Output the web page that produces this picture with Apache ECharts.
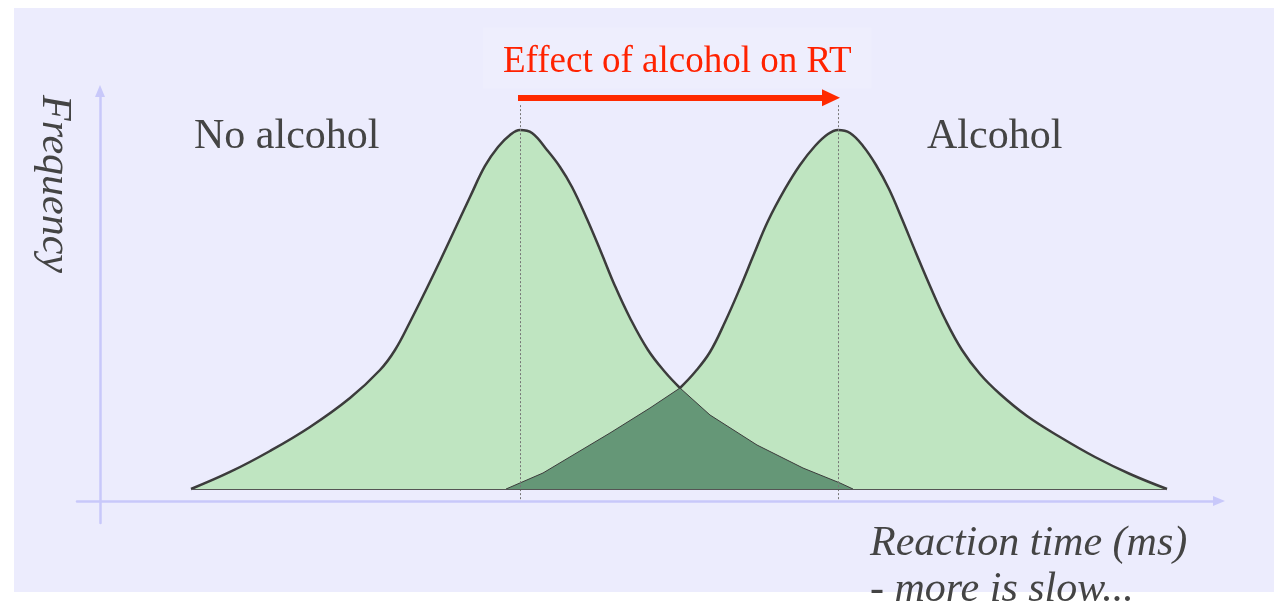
<!DOCTYPE html>
<html>
<head>
<meta charset="utf-8">
<title>Effect of alcohol on RT</title>
<script src="https://cdn.jsdelivr.net/npm/echarts@6/dist/echarts.min.js"></script>
<style>
  html, body { margin: 0; padding: 0; background: #fff; }
  #chart { width: 1274px; height: 611px; }
</style>
</head>
<body>
<div id="chart"></div>
<script>
// reaction time (ms) / frequency
const noAlcohol = [
  [91, 3.23], [130, 7.82], [170, 13.48], [210, 19.95], [250, 27.76], [280, 35.31],
  [295, 40.7], [310, 48.25], [325, 56.33], [340, 64.69], [355, 73.32], [370, 81.94],
  [385, 90.3], [398, 95.42], [410, 98.65], [420, 100], [432, 99.19], [447, 94.61],
  [460, 90.03], [472, 84.64], [487, 76.01], [501, 67.12], [515, 57.95], [530, 49.33],
  [548, 40.7], [565, 34.77], [580, 30.46], [610, 23.18], [657, 15.09], [703, 8.89],
  [740, 4.85], [753, 3.23]
]
const alcohol = [
  [406, 3.23], [443, 7.55], [510, 18.33], [550, 25.07], [580, 30.46], [595, 34.77],
  [610, 40.16], [625, 48.25], [640, 57.41], [654, 66.58], [668, 75.47], [685, 84.1],
  [700, 90.57], [715, 95.69], [728, 98.92], [738, 100], [750, 99.19], [763, 95.69],
  [776, 90.57], [789, 84.1], [802, 76.01], [816, 66.85], [830, 57.95], [845, 49.06],
  [862, 40.7], [880, 34.23], [900, 28.84], [927, 22.91], [960, 17.25], [995, 11.86],
  [1030, 7.28], [1067, 3.23]
]
const crossX = 580     // where the two curves meet
const baseline = 3.23  // bottom of both distributions
const peakNo = 420
const peakAlc = 738

// overlap = rising side of alcohol up to the crossing, then falling side of no alcohol
const overlap = alcohol.filter(p => p[0] <= crossX).concat(noAlcohol.filter(p => p[0] > crossX))

const serif = 'Liberation Serif'
const lightGreen = '#bfe5c1'
const darkGreen = '#659777'
const edge = '#3c3c3c'

const chart = echarts.init(document.getElementById('chart'))
chart.setOption({
  animation: false,
  backgroundColor: '#fff',
  title: {
    text: 'Effect of alcohol on RT',
    left: 483,
    top: 28,
    padding: [16, 20, 8, 20],
    backgroundColor: '#eeeefd',
    textStyle: { fontFamily: serif, fontSize: 37, fontWeight: 'normal', color: '#ff2200', lineHeight: 36 }
  },
  grid: { left: 77, right: 55, top: 91, bottom: 88 },
  xAxis: {
    type: 'value', min: -23, max: 1119,
    axisLine: {
      onZero: true, symbol: ['none', 'triangle'], symbolSize: [10, 12],
      lineStyle: { color: '#c8c8fa', width: 2.5 }
    },
    axisTick: { show: false }, axisLabel: { show: false }, splitLine: { show: false }
  },
  yAxis: {
    type: 'value', min: -5.93, max: 110.51,
    axisLine: {
      onZero: true, symbol: ['none', 'triangle'], symbolSize: [10, 12],
      lineStyle: { color: '#c8c8fa', width: 2.5 }
    },
    axisTick: { show: false }, axisLabel: { show: false }, splitLine: { show: false }
  },
  graphic: [
    { type: 'rect', z: -10, shape: { x: 14, y: 8, width: 1260, height: 584 }, style: { fill: '#ececfd' } },
    { type: 'text', z: 100, x: 194, y: 136.7,
      style: { text: 'No alcohol', font: '42px "Liberation Serif"', fill: '#444', align: 'left', verticalAlign: 'middle' } },
    { type: 'text', z: 100, x: 927, y: 136.7,
      style: { text: 'Alcohol', font: '42px "Liberation Serif"', fill: '#444', align: 'left', verticalAlign: 'middle' } },
    { type: 'text', z: 100, x: 54, y: 95, rotation: -Math.PI / 2,
      style: { text: 'Frequency', font: 'italic 42px "Liberation Serif"', fill: '#444', align: 'left', verticalAlign: 'middle' } },
    { type: 'text', z: 100, x: 870, y: 567,
      style: { text: 'Reaction time (ms)\n- more is slow...', font: 'italic 42px "Liberation Serif"', lineHeight: 46,
        fill: '#444', align: 'left', verticalAlign: 'middle' } }
  ],
  series: [
    {
      name: 'No alcohol', type: 'line', data: noAlcohol, smooth: 0.4, showSymbol: false, z: 2,
      lineStyle: { width: 0 },
      areaStyle: { color: lightGreen, opacity: 1, origin: baseline },
      markLine: {
        silent: true, symbol: ['none', 'none'], label: { show: false },
        lineStyle: { color: '#777', width: 1, type: [2, 2] },
        data: [
          [{ coord: [peakNo, 106.7] }, { coord: [peakNo, 0] }],
          [{ coord: [peakAlc, 106.7] }, { coord: [peakAlc, 0] }],
          [{ coord: [noAlcohol[0][0], baseline], lineStyle: { type: 'solid', color: '#555' } },
           { coord: [alcohol[alcohol.length - 1][0], baseline] }]
        ]
      }
    },
    {
      name: 'Alcohol', type: 'line', data: alcohol, smooth: 0.4, showSymbol: false, z: 2,
      lineStyle: { width: 0 },
      areaStyle: { color: lightGreen, opacity: 1, origin: baseline },
      markLine: {
        silent: true, symbol: ['none', 'triangle'], symbolSize: [17, 18], label: { show: false },
        lineStyle: { color: '#ff2a00', width: 6, type: 'solid', opacity: 1 },
        itemStyle: { color: '#ff2a00' },
        data: [[{ coord: [peakNo - 2, 108.7] }, { coord: [peakAlc - 7, 108.7] }]]
      }
    },
    {
      name: 'Overlap', type: 'line', data: overlap, smooth: false, showSymbol: false, z: 3,
      lineStyle: { width: 1, color: edge },
      areaStyle: { color: darkGreen, opacity: 1, origin: baseline }
    },
    {
      name: 'No alcohol edge', type: 'line', data: noAlcohol.filter(p => p[0] <= crossX),
      smooth: 0.4, showSymbol: false, z: 4, lineStyle: { width: 2.5, color: edge }
    },
    {
      name: 'Alcohol edge', type: 'line', data: alcohol.filter(p => p[0] >= crossX),
      smooth: 0.4, showSymbol: false, z: 4, lineStyle: { width: 2.5, color: edge }
    }
  ]
})
</script>
</body>
</html>
